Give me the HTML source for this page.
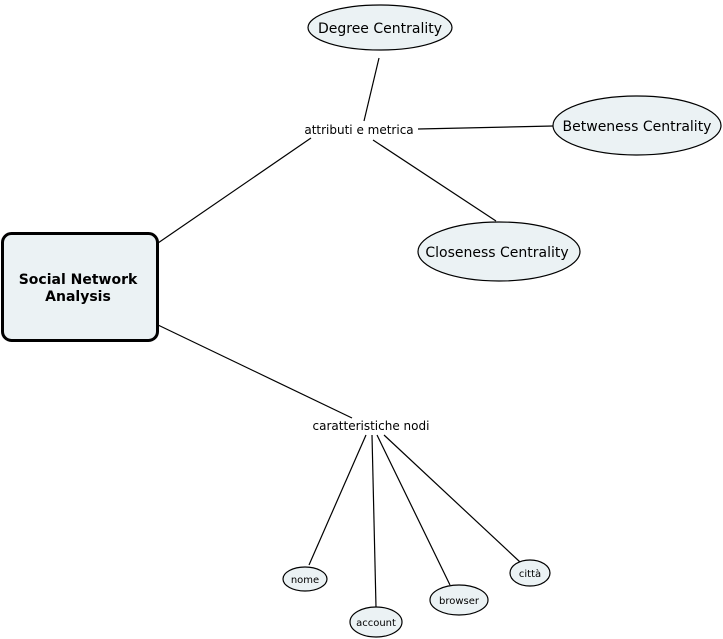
<!DOCTYPE html>
<html><head><meta charset="utf-8"><style>
html,body{margin:0;padding:0;background:#fff;}
svg{display:block;}
text{font-family:"DejaVu Sans","Liberation Sans",sans-serif;fill:#000;}
</style></head><body>
<svg width="723" height="639" viewBox="0 0 723 639" xmlns="http://www.w3.org/2000/svg">
<g stroke="#000" stroke-width="1.2" fill="none">
<line x1="158" y1="243" x2="311" y2="138"/>
<line x1="379" y1="58" x2="364" y2="121"/>
<line x1="418" y1="129" x2="553" y2="126"/>
<line x1="373" y1="140" x2="496" y2="221"/>
<line x1="158" y1="325" x2="352" y2="418"/>
<line x1="366" y1="435" x2="309" y2="565"/>
<line x1="372" y1="435" x2="376" y2="607"/>
<line x1="377" y1="435" x2="450" y2="585"/>
<line x1="384" y1="435" x2="520" y2="562"/>
</g>
<rect x="2.5" y="233.5" width="155" height="107" rx="9" fill="#ebf2f4" stroke="#000" stroke-width="3"/>
<text x="78" y="284" font-size="14" font-weight="bold" text-anchor="middle">Social Network</text>
<text x="78" y="301" font-size="14" font-weight="bold" text-anchor="middle">Analysis</text>
<g fill="#ebf2f4" stroke="#000" stroke-width="1.2">
<ellipse cx="380" cy="27.5" rx="72" ry="22.5"/>
<ellipse cx="637" cy="125.5" rx="84" ry="29.5"/>
<ellipse cx="499" cy="251.5" rx="81" ry="29.5"/>
<ellipse cx="305" cy="579" rx="22" ry="12"/>
<ellipse cx="376" cy="622" rx="26" ry="15"/>
<ellipse cx="459" cy="600" rx="29" ry="15"/>
<ellipse cx="530" cy="573" rx="20" ry="13"/>
</g>
<g font-size="14" text-anchor="middle">
<text x="380" y="33">Degree Centrality</text>
<text x="637" y="131">Betweness Centrality</text>
<text x="497" y="257">Closeness Centrality</text>
</g>
<g font-size="12" text-anchor="middle">
<text x="359" y="134">attributi e metrica</text>
<text x="371" y="430">caratteristiche nodi</text>
</g>
<g font-size="10" text-anchor="middle">
<text x="305" y="583">nome</text>
<text x="376" y="626">account</text>
<text x="459" y="604">browser</text>
<text x="530" y="577">città</text>
</g>
</svg>
</body></html>
